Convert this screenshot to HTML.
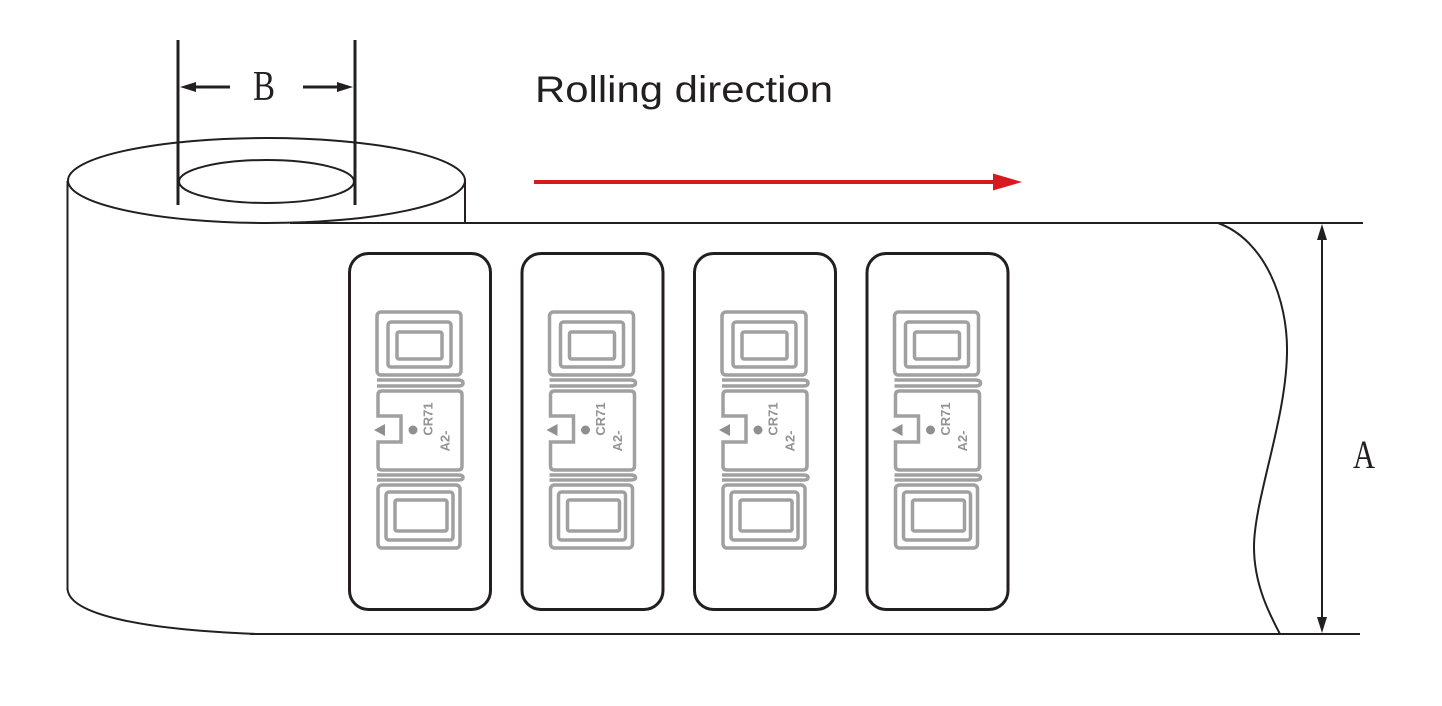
<!DOCTYPE html>
<html><head><meta charset="utf-8"><style>
html,body{margin:0;padding:0;background:#fff;}
svg{display:block;}
</style></head><body>
<svg width="1442" height="706" viewBox="0 0 1442 706" xmlns="http://www.w3.org/2000/svg">
<rect width="1442" height="706" fill="#fff"/>

<!-- Roll -->
<g fill="none" stroke="#231f20" stroke-width="2">
  <ellipse cx="266.5" cy="180.5" rx="198.5" ry="42.5"/>
  <ellipse cx="266.5" cy="181.5" rx="87.5" ry="21.5"/>
  <line x1="67.5" y1="181" x2="67.5" y2="590"/>
  <line x1="465" y1="181" x2="465" y2="223"/>
  <line x1="290" y1="223" x2="1363" y2="223"/>
  <line x1="250" y1="634" x2="1360" y2="634"/>
  <path d="M67.5,588 C67.5,616 150,630 258,634"/>
  <path d="M1218,223 C1265,240 1288,300 1287,353 C1286,420 1254,500 1254,547 C1254,585 1270,615 1280,634"/>
</g>

<!-- B dimension -->
<g stroke="#231f20" stroke-width="3">
  <line x1="178" y1="40" x2="178" y2="205"/>
  <line x1="355" y1="40" x2="355" y2="205"/>
  <line x1="194" y1="87" x2="230" y2="87"/>
  <line x1="303" y1="87" x2="339" y2="87"/>
</g>
<polygon points="180,87 196,82 196,92" fill="#231f20"/>
<polygon points="353,87 337,82 337,92" fill="#231f20"/>
<text x="253" y="100" font-family="Liberation Serif, serif" font-size="42" fill="#231f20" textLength="22" lengthAdjust="spacingAndGlyphs">B</text>

<!-- A dimension -->
<line x1="1322" y1="236" x2="1322" y2="621" stroke="#231f20" stroke-width="2"/>
<polygon points="1322,224 1317,240 1327,240" fill="#231f20"/>
<polygon points="1322,633 1317,617 1327,617" fill="#231f20"/>
<text x="1353" y="468" font-family="Liberation Serif, serif" font-size="40" fill="#231f20" textLength="22" lengthAdjust="spacingAndGlyphs">A</text>

<!-- Rolling direction -->
<text x="535" y="102" font-family="Liberation Sans, sans-serif" font-size="37" fill="#231f20" textLength="298" lengthAdjust="spacingAndGlyphs">Rolling direction</text>
<line x1="534" y1="182" x2="996" y2="182" stroke="#d71920" stroke-width="4"/>
<polygon points="993,173.5 1022,182 993,190.5" fill="#d71920"/>

<!-- Card 1 -->
<g>
  <rect x="349.5" y="253.5" width="141" height="356" rx="19" ry="19" fill="none" stroke="#231f20" stroke-width="3"/>
  <g fill="none" stroke="#a0a0a0" stroke-width="3.5">
    <rect x="377" y="312" width="84" height="63" rx="4"/>
    <rect x="388" y="322" width="63" height="45" rx="3"/>
    <rect x="397" y="332" width="45" height="27" rx="2"/>
    <path d="M377,380 H458 Q463,380 463,383 Q463,386 458,386 H377"/>
    <path d="M382,391 H458 Q462,391 462,395 V466 Q462,470 458,470 H382 Q378,470 378,466 V442 H401 V416 H378 V395 Q378,391 382,391 Z"/>
    <path d="M377,475 H458 Q463,475 463,477.5 Q463,480 458,480 H377"/>
    <rect x="378" y="485" width="82" height="63" rx="4"/>
    <rect x="386" y="492" width="67" height="48" rx="3"/>
    <rect x="395" y="500" width="52" height="31" rx="2"/>
  </g>
  <polygon points="374,430 385,424 385,436" fill="#8f8f8f"/>
  <circle cx="413" cy="430" r="4.5" fill="#8f8f8f"/>
  <text transform="translate(428,419) rotate(-90)" text-anchor="middle" dominant-baseline="central" font-family="Liberation Sans, sans-serif" font-weight="bold" font-size="13" fill="#939393">CR71</text>
  <text transform="translate(445,441) rotate(-90)" text-anchor="middle" dominant-baseline="central" font-family="Liberation Sans, sans-serif" font-weight="bold" font-size="13" fill="#939393">A2-</text>
</g>

<!-- Card 2 -->
<g transform="translate(172.5,0)">
  <rect x="349.5" y="253.5" width="141" height="356" rx="19" ry="19" fill="none" stroke="#231f20" stroke-width="3"/>
  <g fill="none" stroke="#a0a0a0" stroke-width="3.5">
    <rect x="377" y="312" width="84" height="63" rx="4"/>
    <rect x="388" y="322" width="63" height="45" rx="3"/>
    <rect x="397" y="332" width="45" height="27" rx="2"/>
    <path d="M377,380 H458 Q463,380 463,383 Q463,386 458,386 H377"/>
    <path d="M382,391 H458 Q462,391 462,395 V466 Q462,470 458,470 H382 Q378,470 378,466 V442 H401 V416 H378 V395 Q378,391 382,391 Z"/>
    <path d="M377,475 H458 Q463,475 463,477.5 Q463,480 458,480 H377"/>
    <rect x="378" y="485" width="82" height="63" rx="4"/>
    <rect x="386" y="492" width="67" height="48" rx="3"/>
    <rect x="395" y="500" width="52" height="31" rx="2"/>
  </g>
  <polygon points="374,430 385,424 385,436" fill="#8f8f8f"/>
  <circle cx="413" cy="430" r="4.5" fill="#8f8f8f"/>
  <text transform="translate(428,419) rotate(-90)" text-anchor="middle" dominant-baseline="central" font-family="Liberation Sans, sans-serif" font-weight="bold" font-size="13" fill="#939393">CR71</text>
  <text transform="translate(445,441) rotate(-90)" text-anchor="middle" dominant-baseline="central" font-family="Liberation Sans, sans-serif" font-weight="bold" font-size="13" fill="#939393">A2-</text>
</g>

<!-- Card 3 -->
<g transform="translate(345,0)">
  <rect x="349.5" y="253.5" width="141" height="356" rx="19" ry="19" fill="none" stroke="#231f20" stroke-width="3"/>
  <g fill="none" stroke="#a0a0a0" stroke-width="3.5">
    <rect x="377" y="312" width="84" height="63" rx="4"/>
    <rect x="388" y="322" width="63" height="45" rx="3"/>
    <rect x="397" y="332" width="45" height="27" rx="2"/>
    <path d="M377,380 H458 Q463,380 463,383 Q463,386 458,386 H377"/>
    <path d="M382,391 H458 Q462,391 462,395 V466 Q462,470 458,470 H382 Q378,470 378,466 V442 H401 V416 H378 V395 Q378,391 382,391 Z"/>
    <path d="M377,475 H458 Q463,475 463,477.5 Q463,480 458,480 H377"/>
    <rect x="378" y="485" width="82" height="63" rx="4"/>
    <rect x="386" y="492" width="67" height="48" rx="3"/>
    <rect x="395" y="500" width="52" height="31" rx="2"/>
  </g>
  <polygon points="374,430 385,424 385,436" fill="#8f8f8f"/>
  <circle cx="413" cy="430" r="4.5" fill="#8f8f8f"/>
  <text transform="translate(428,419) rotate(-90)" text-anchor="middle" dominant-baseline="central" font-family="Liberation Sans, sans-serif" font-weight="bold" font-size="13" fill="#939393">CR71</text>
  <text transform="translate(445,441) rotate(-90)" text-anchor="middle" dominant-baseline="central" font-family="Liberation Sans, sans-serif" font-weight="bold" font-size="13" fill="#939393">A2-</text>
</g>

<!-- Card 4 -->
<g transform="translate(517.5,0)">
  <rect x="349.5" y="253.5" width="141" height="356" rx="19" ry="19" fill="none" stroke="#231f20" stroke-width="3"/>
  <g fill="none" stroke="#a0a0a0" stroke-width="3.5">
    <rect x="377" y="312" width="84" height="63" rx="4"/>
    <rect x="388" y="322" width="63" height="45" rx="3"/>
    <rect x="397" y="332" width="45" height="27" rx="2"/>
    <path d="M377,380 H458 Q463,380 463,383 Q463,386 458,386 H377"/>
    <path d="M382,391 H458 Q462,391 462,395 V466 Q462,470 458,470 H382 Q378,470 378,466 V442 H401 V416 H378 V395 Q378,391 382,391 Z"/>
    <path d="M377,475 H458 Q463,475 463,477.5 Q463,480 458,480 H377"/>
    <rect x="378" y="485" width="82" height="63" rx="4"/>
    <rect x="386" y="492" width="67" height="48" rx="3"/>
    <rect x="395" y="500" width="52" height="31" rx="2"/>
  </g>
  <polygon points="374,430 385,424 385,436" fill="#8f8f8f"/>
  <circle cx="413" cy="430" r="4.5" fill="#8f8f8f"/>
  <text transform="translate(428,419) rotate(-90)" text-anchor="middle" dominant-baseline="central" font-family="Liberation Sans, sans-serif" font-weight="bold" font-size="13" fill="#939393">CR71</text>
  <text transform="translate(445,441) rotate(-90)" text-anchor="middle" dominant-baseline="central" font-family="Liberation Sans, sans-serif" font-weight="bold" font-size="13" fill="#939393">A2-</text>
</g>
</svg>
</body></html>
